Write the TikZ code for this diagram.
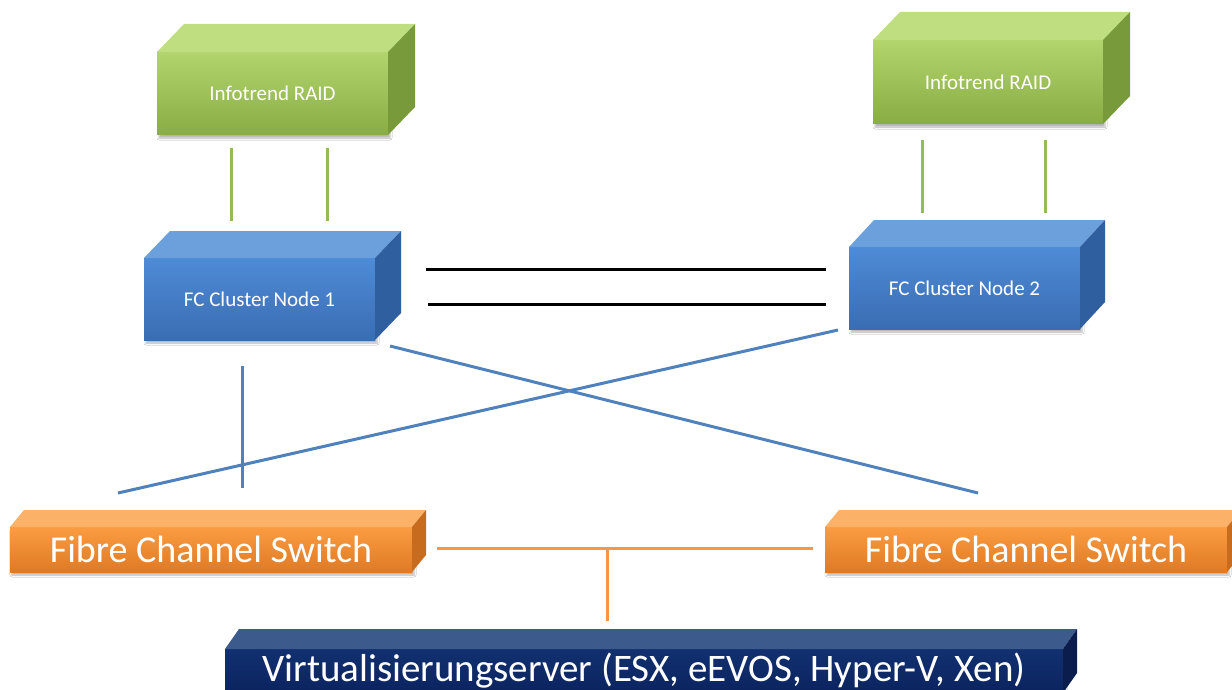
\documentclass[tikz,border=0pt]{standalone}
\usepackage{fontspec}
\setmainfont{Carlito}
\usetikzlibrary{calc,shadows.blur}
\definecolor{grTop}{HTML}{B3D46E}
\definecolor{grBot}{HTML}{88AD43}
\definecolor{grUp}{HTML}{BFDE80}
\definecolor{grSide}{HTML}{789A3A}
\definecolor{blTop}{HTML}{4E8BD6}
\definecolor{blBot}{HTML}{3A6DB3}
\definecolor{blUp}{HTML}{6CA0DD}
\definecolor{blSide}{HTML}{2F5F9F}
\definecolor{orTop}{HTML}{FA9C42}
\definecolor{orBot}{HTML}{DF7A24}
\definecolor{orUp}{HTML}{FBB268}
\definecolor{orSide}{HTML}{C76B1F}
\definecolor{nvTop}{HTML}{12306F}
\definecolor{nvBot}{HTML}{0B2460}
\definecolor{nvUp}{HTML}{3C5A8C}
\definecolor{nvSide}{HTML}{0A1D4C}
\definecolor{gLine}{HTML}{92BC55}
\definecolor{bLine}{HTML}{4F81BD}
\definecolor{oLine}{HTML}{F79646}
\newcommand\boxdepth[5]{%
  \fill[#4] (#1.north west) -- ([shift={(#2,-#3)}]#1.north west)
    -- ([shift={(#2,-#3)}]#1.north east) -- (#1.north east) -- cycle;
  \fill[#5] (#1.north east) -- ([shift={(#2,-#3)}]#1.north east)
    -- ([shift={(#2,-#3)}]#1.south east) -- (#1.south east) -- cycle;}
\tikzset{
  face/.style={inner sep=0pt, outer sep=0pt, text=white, align=center,
    blur shadow={shadow xshift=2pt, shadow yshift=-3pt, shadow opacity=30, shadow blur radius=2pt}},
  small/.style={font=\fontsize{21}{24}\selectfont},
  big/.style={font=\fontsize{38}{42}\selectfont},
  greenbox/.style={face, small, top color=grTop, bottom color=grBot},
  bluebox/.style={face, small, top color=blTop, bottom color=blBot},
  orangebox/.style={face, big, top color=orTop, bottom color=orBot},
  navybox/.style={face, big, top color=nvTop, bottom color=nvBot},
  gline/.style={draw=gLine, line width=3pt},
  kline/.style={draw=black, line width=3pt},
  bline/.style={draw=bLine, line width=3pt},
  oline/.style={draw=oLine, line width=3pt},
}
\begin{document}
\begin{tikzpicture}[x=1pt,y=-1pt]
\clip (0,0) rectangle (1232,690);
\fill[white] (0,0) rectangle (1232,690);

% boxes
\node[greenbox, minimum width=231pt, minimum height=83pt] (raid1) at (272.5,93.5) {Infotrend RAID};
\boxdepth{raid1}{27}{28}{grUp}{grSide}
\node[greenbox, minimum width=230pt, minimum height=84pt] (raid2) at (988,82) {Infotrend RAID};
\boxdepth{raid2}{27}{28}{grUp}{grSide}
\node[bluebox, minimum width=231pt, minimum height=82pt] (node1) at (259.5,299) {FC Cluster Node 1};
\boxdepth{node1}{26}{27}{blUp}{blSide}
\node[bluebox, minimum width=231pt, minimum height=82pt] (node2) at (964.5,288) {FC Cluster Node 2};
\boxdepth{node2}{25}{27}{blUp}{blSide}
\node[orangebox, minimum width=402pt, minimum height=45pt] (sw1) at (211,549.5) {Fibre Channel Switch};
\boxdepth{sw1}{14}{17}{orUp}{orSide}
\node[orangebox, minimum width=402pt, minimum height=45pt] (sw2) at (1026,549.5) {Fibre Channel Switch};
\boxdepth{sw2}{14}{17}{orUp}{orSide}
\node[navybox, font=\fontsize{39}{42}\selectfont, minimum width=838pt, minimum height=44pt] (virt) at (644,671) {Virtualisierungserver (ESX, eEVOS, Hyper-V, Xen)};
\boxdepth{virt}{14}{20}{nvUp}{nvSide}

% RAID to cluster nodes
\draw[gline] ($(raid1.south)+(-41.5,13)$) -- ($(node1.north)+(-28.5,-37)$);
\draw[gline] ($(raid1.south)+(54.5,13)$) -- ($(node1.north)+(67.5,-37)$);
\draw[gline] ($(raid2.south)+(-66,16)$) -- ($(node2.north)+(-42.5,-34)$);
\draw[gline] ($(raid2.south)+(57,16)$) -- ($(node2.north)+(80.5,-34)$);

% cluster interconnect
\draw[kline] ($(node1.east)+(51,-30)$) -- ($(node2.west)+(-23,-19)$);
\draw[kline] ($(node1.east)+(53,5)$) -- ($(node2.west)+(-23,16)$);

% cluster nodes to switches
\draw[bline] ($(node1.south)+(-17.5,26)$) -- ($(sw1.north)+(31,-39)$);
\draw[bline] ($(node1.south east)+(15,6)$) -- ($(sw2.north)+(-48,-34)$);
\draw[bline] ($(node2.south west)+(-11,1)$) -- ($(sw1.north)+(-93,-34)$);

% switches to server
\draw[oline] ($(sw1.east)+(25,-1.5)$) -- ($(sw2.west)+(-12,-1.5)$);
\coordinate (tee) at ($(sw1.east)+(195,-1.5)$);
\draw[oline] (tee) -- ($(virt.north)+(-37,-28)$);
\end{tikzpicture}
\end{document}
